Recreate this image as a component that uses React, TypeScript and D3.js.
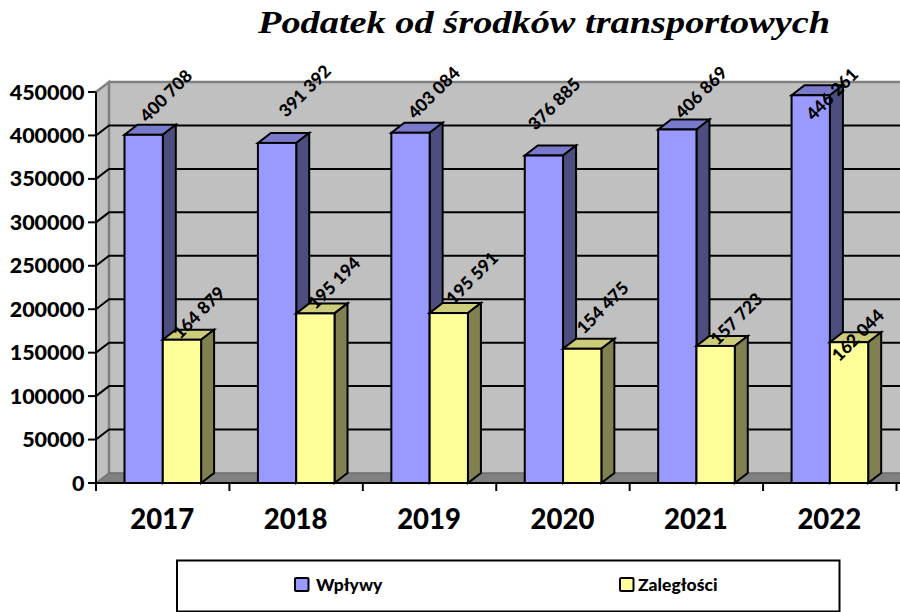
import React from 'react';
import * as d3 from 'd3';

const categories = ['2017', '2018', '2019', '2020', '2021', '2022'];
const wplywy = [400708, 391392, 403084, 376885, 406869, 446261];
const zaleglosci = [164879, 195194, 195591, 154475, 157723, 162044];
const labelsW = ['400 708', '391 392', '403 084', '376 885', '406 869', '446 261'];
const labelsZ = ['164 879', '195 194', '195 591', '154 475', '157 723', '162 044'];
const yTicks = [0, 50000, 100000, 150000, 200000, 250000, 300000, 350000, 400000, 450000];

// hand-placed label centres in the reference, relative to the bar's top-left corner
const labelShiftW = [[41.5, -39], [47, -52], [42.5, -40], [29.5, -51.5], [43, -37], [40.5, -1]];
const labelShiftZ = [[36, -27], [38, -30.5], [42.5, -35], [39.5, -41], [40, -27], [28, -7]];

const W = 900, H = 612;
const x0 = 96, x1 = 896.5, y0 = 483, yT = 92, dx = 13, dy = -10;
const FONT = 'Lato, "Open Sans", sans-serif';
const y = d3.scaleLinear().domain([0, 450000]).range([y0, yT]);
const band = d3.scaleBand<string>().domain(categories).range([x0, x1]);
const LINE = '#000';

function Bar({ x, v, w, front, top, side }: { x: number; v: number; w: number; front: string; top: string; side: string }) {
  const t = y(v);
  return (
    <g stroke={LINE} strokeWidth={2} strokeLinejoin="miter">
      <path d={`M${x},${t}L${x + dx},${t + dy}L${x + w + dx},${t + dy}L${x + w},${t}Z`} fill={top} />
      <path d={`M${x + w},${t}L${x + w + dx},${t + dy}L${x + w + dx},${y0 + dy}L${x + w},${y0}Z`} fill={side} />
      <rect x={x} y={t} width={w} height={y0 - t} fill={front} />
    </g>
  );
}

export default function App() {
  const bw = 38.3;
  const gapOffset = 28.5;
  return (
    <svg width={W} height={H} style={{ position: 'absolute', left: 0, top: 0, background: '#fff' }}>
      <text x={258} y={33} fontFamily='"Liberation Serif", serif' fontWeight="bold" fontStyle="italic" fontSize={31} textLength={572} lengthAdjust="spacingAndGlyphs">Podatek od środków transportowych</text>

      {/* walls */}
      <path d={`M${x0},${yT}L${x0 + dx},${yT + dy}L${x0 + dx},${y0 + dy}L${x0},${y0}Z`} fill="#c0c0c0" />
      <rect x={x0 + dx} y={yT + dy} width={W - x0 - dx} height={y0 - yT} fill="#c0c0c0" />
      <path d={`M${x0},${y0}L${x0 + dx},${y0 + dy}L${W},${y0 + dy}L${W},${y0}Z`} fill="#808080" />
      <path d={`M${x0},${yT}L${x0 + dx},${yT + dy}V${y0 + dy}M${x0 + dx},${yT + dy}H${W}`} fill="none" stroke="#808080" strokeWidth={2.5} />
      <path d={`M${x0},${y0}L${x0 + dx},${y0 + dy}H${W}`} fill="none" stroke="#6e6e6e" strokeWidth={1.5} />

      {/* grid */}
      {yTicks.slice(1, -1).map((t) => (
        <path key={t} d={`M${x0},${y(t)}L${x0 + dx},${y(t) + dy}H${W}`} fill="none" stroke={LINE} strokeWidth={2} />
      ))}

      {/* axes */}
      <path d={`M${x0},${yT}V${y0}H${x1 + 4}`} fill="none" stroke={LINE} strokeWidth={2} />
      {yTicks.map((t) => (
        <g key={t}>
          <line x1={x0 - 8} x2={x0} y1={y(t)} y2={y(t)} stroke={LINE} strokeWidth={2} />
          <text x={x0 - 11.5} y={y(t)} dy="0.35em" textAnchor="end" fontFamily={FONT} fontWeight={900} fontSize={21.5}>{t}</text>
        </g>
      ))}
      {[...categories.map((c) => band(c)!), x1].map((p, i) => (
        <line key={i} x1={p} x2={p} y1={y0} y2={y0 + 8} stroke={LINE} strokeWidth={2} />
      ))}

      {/* bars */}
      {categories.map((c, i) => {
        const bx = band(c)! + gapOffset;
        return (
          <g key={c}>
            <Bar x={bx} v={wplywy[i]} w={bw} front="#9999ff" top="#7a7acc" side="#4d4d80" />
            <Bar x={bx + bw} v={zaleglosci[i]} w={bw} front="#ffff99" top="#cccc7a" side="#808050" />
          </g>
        );
      })}

      {/* value labels */}
      {categories.map((c, i) => {
        const bx = band(c)! + gapOffset;
        const lw = `translate(${bx + labelShiftW[i][0]},${y(wplywy[i]) + labelShiftW[i][1]}) rotate(-45)`;
        const lz = `translate(${bx + bw + labelShiftZ[i][0]},${y(zaleglosci[i]) + labelShiftZ[i][1]}) rotate(-45)`;
        return (
          <g key={c} fontFamily={FONT} fontWeight={900} fontSize={17.5}>
            <text transform={lw} textAnchor="middle" dy="0.35em">{labelsW[i]}</text>
            <text transform={lz} textAnchor="middle" dy="0.35em">{labelsZ[i]}</text>
          </g>
        );
      })}

      {/* category labels */}
      {categories.map((c) => (
        <text key={c} x={band(c)! + band.bandwidth() / 2 - 0.5} y={519} dy="0.35em" textAnchor="middle" fontFamily={FONT} fontWeight={900} fontSize={27.5}>{c}</text>
      ))}

      {/* legend */}
      <rect x={177} y={560.5} width={662.5} height={51} fill="#fff" stroke={LINE} strokeWidth={2} />
      <rect x={295} y={578} width={13.5} height={13} rx={1} fill="#9999ff" stroke={LINE} strokeWidth={2} />
      <text x={316} y={585} dy="0.35em" fontFamily={FONT} fontWeight={900} fontSize={17.5}>Wpływy</text>
      <rect x={620} y={578} width={13.5} height={13} rx={1} fill="#ffff99" stroke={LINE} strokeWidth={2} />
      <text x={638} y={585} dy="0.35em" fontFamily={FONT} fontWeight={900} fontSize={17.5}>Zaległości</text>
    </svg>
  );
}
